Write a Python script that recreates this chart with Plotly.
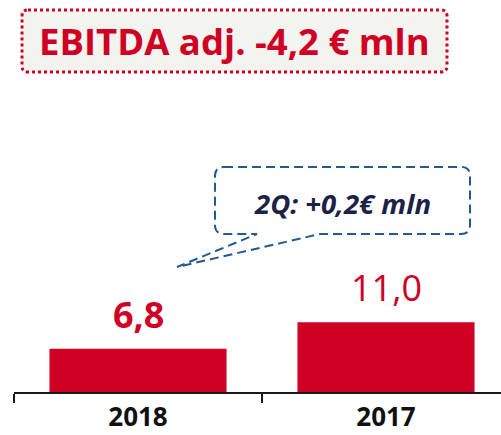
import plotly.graph_objects as go

# ---- data ----
categories = ["2018", "2017"]
values = [6.8, 11.0]
value_labels = ["6,8", "11,0"]
value_bold = [True, False]
title_text = "EBITDA adj. -4,2 € mln"
callout_text = "2Q: +0,2€ mln"

W, H = 501, 435
RED = "#D00024"
BLUE = "#1F5A92"
NAVY = "#1C2146"
FONT = "Open Sans"


def px(x):
    return x / W


def py(y):
    return 1 - y / H


def rounded_rect(x0, y0, x1, y1, r, notch=None):
    p = lambda x, y: f"{px(x):.5f},{py(y):.5f}"
    d = f"M {p(x0 + r, y0)} L {p(x1 - r, y0)} Q {p(x1, y0)} {p(x1, y0 + r)} "
    d += f"L {p(x1, y1 - r)} Q {p(x1, y1)} {p(x1 - r, y1)} "
    if notch:
        xr, xl, tx, ty = notch
        d += f"L {p(xr, y1)} L {p(tx, ty)} L {p(xl, y1)} "
    d += f"L {p(x0 + r, y1)} Q {p(x0, y1)} {p(x0, y1 - r)} "
    d += f"L {p(x0, y0 + r)} Q {p(x0, y0)} {p(x0 + r, y0)} Z"
    return d


fig = go.Figure()
fig.add_trace(go.Bar(
    x=categories, y=values, marker=dict(color=RED, line=dict(width=0)),
    width=0.714, hoverinfo="skip",
))

# value labels (x given as category index)
for i, (v, lab, b) in enumerate(zip(values, value_labels, value_bold)):
    fig.add_annotation(
        x=i, y=v, xref="x", yref="y", text=lab, showarrow=False,
        yanchor="bottom", yshift=8,
        font=dict(family=FONT, size=36, color=RED, weight="bold" if b else "normal"),
    )

shapes = []
shapes.append(dict(
    type="path", xref="paper", yref="paper",
    path=rounded_rect(22, 10, 447, 72, 6),
    fillcolor="#F3F3EF", line=dict(color=RED, width=3, dash="3px,3px"), layer="below",
))
shapes.append(dict(
    type="path", xref="paper", yref="paper",
    path=rounded_rect(215, 167, 470, 234, 9, notch=(320, 257, 177, 267)),
    fillcolor="rgba(255,255,255,0)", line=dict(color=BLUE, width=2, dash="9px,5px"),
))

fig.add_annotation(
    x=px(234.5), y=py(41), xref="paper", yref="paper", text=title_text, showarrow=False,
    xanchor="center", yanchor="middle",
    font=dict(family=FONT, size=36.5, color=RED, weight="bold"),
)
fig.add_annotation(
    x=px(342.5), y=py(203), xref="paper", yref="paper", text=callout_text, showarrow=False,
    xanchor="center", yanchor="middle",
    font=dict(family=FONT, size=27.5, color=NAVY, weight="bold", style="italic"),
)

plot_h = 392
ppu = 6.35
fig.update_layout(
    width=W, height=H, margin=dict(l=0, r=0, t=0, b=0),
    paper_bgcolor="white", plot_bgcolor="white", showlegend=False,
    shapes=shapes,
    xaxis=dict(
        domain=[14 / W, 1], type="category", range=[-0.5, -0.5 + (W - 14) / 248],
        showline=True, linecolor="#1a1a1a", linewidth=1.5,
        ticks="outside", tickson="boundaries", ticklen=9, tickwidth=1.5, tickcolor="#1a1a1a",
        tickfont=dict(family=FONT, size=26, color="#111111", weight="bold"),
        ticklabelstandoff=1,
        showgrid=False, zeroline=False, automargin=False,
    ),
    yaxis=dict(
        domain=[(H - plot_h) / H, 1], range=[0, plot_h / ppu],
        visible=False, showgrid=False, zeroline=False, automargin=False,
    ),
)

fig.write_html("out.html", config={"displayModeBar": False},
               post_script="document.body.style.margin='0';")
